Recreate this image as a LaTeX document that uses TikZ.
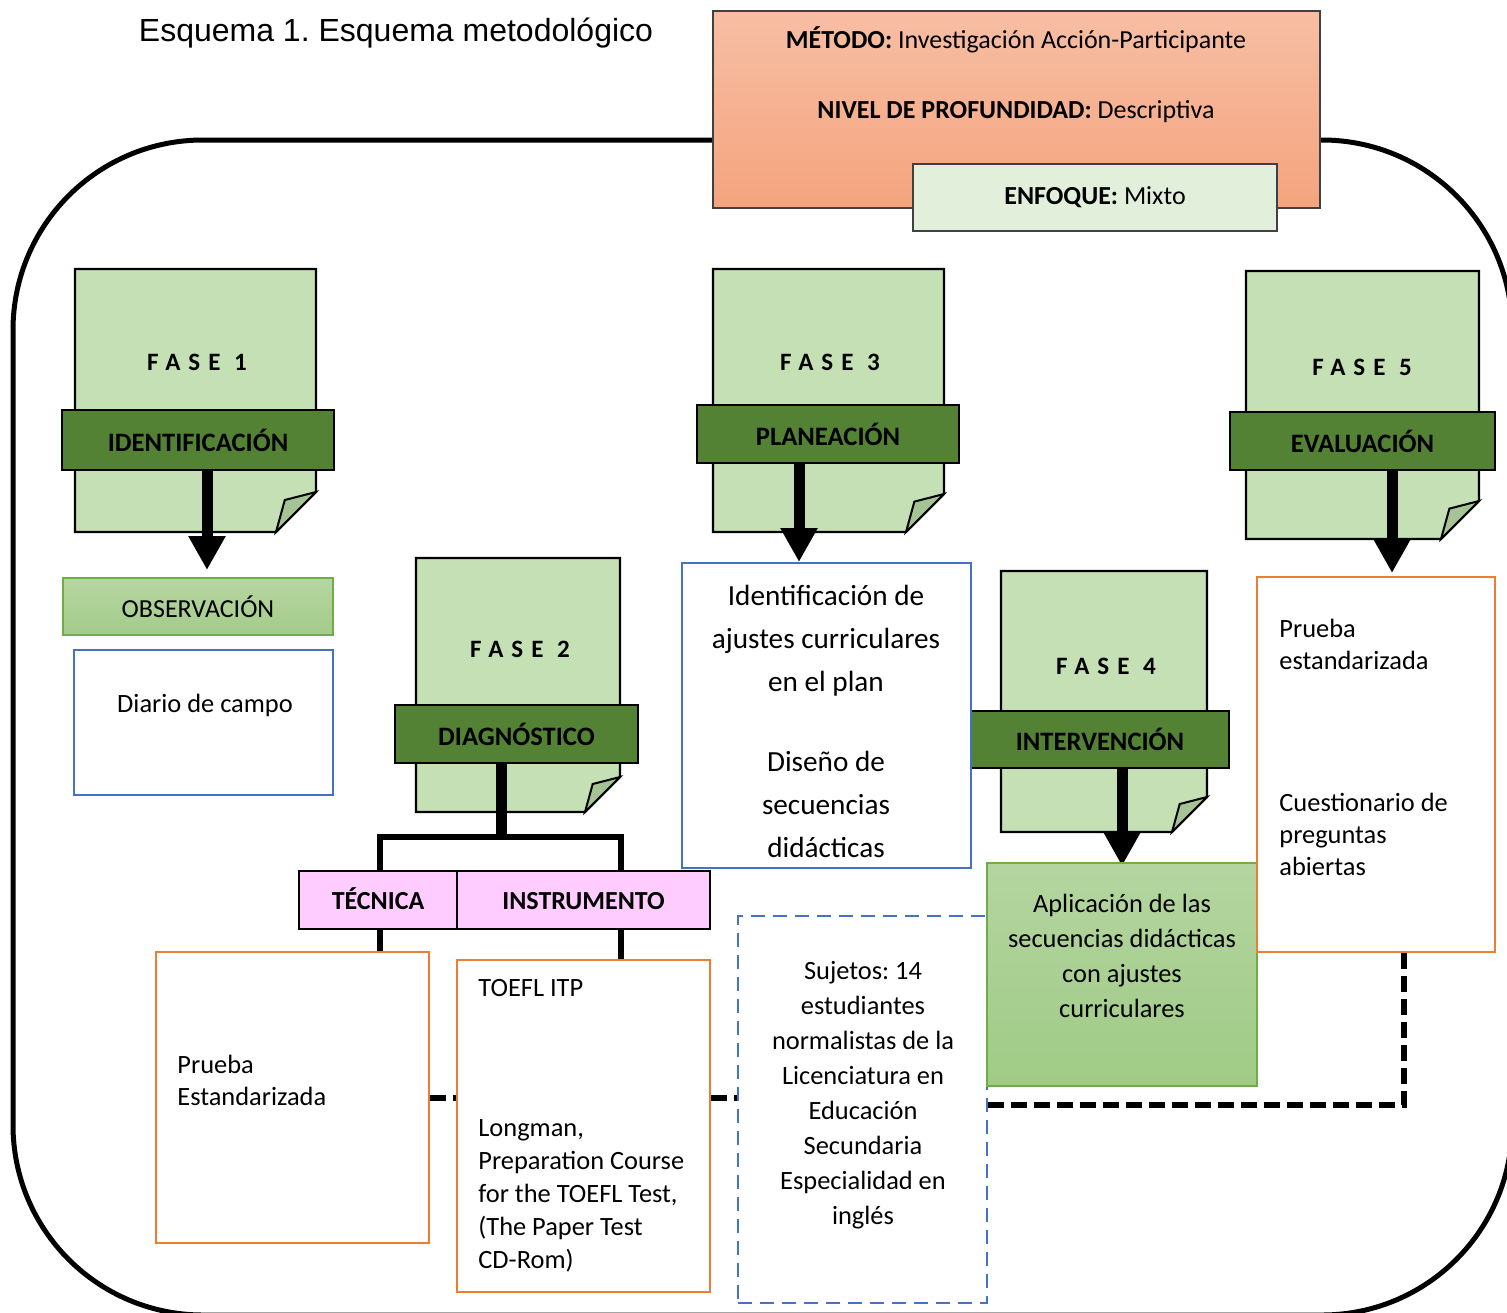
\documentclass[tikz,border=0pt]{standalone}
\usepackage{fontspec}
\setmainfont{Carlito}
\newfontfamily\arialfont{Liberation Sans}
\usetikzlibrary{arrows.meta,fit,calc}

\definecolor{pagegreen}{HTML}{C5E0B4}
\definecolor{foldgreen}{HTML}{A6C395}
\definecolor{bandgreen}{HTML}{548235}
\definecolor{edgegreen}{HTML}{70AD47}
\definecolor{boxorange}{HTML}{ED7D31}
\definecolor{boxblue}{HTML}{4472C4}
\definecolor{tecpink}{HTML}{FFCCFF}
\definecolor{enfgreen}{HTML}{E2EFDA}
\definecolor{mettop}{HTML}{F7BEA4}
\definecolor{metbot}{HTML}{F4A47E}
\definecolor{obstop}{HTML}{B6D6A2}
\definecolor{obsbot}{HTML}{A3CB89}
\definecolor{apltop}{HTML}{B4D5A0}
\definecolor{aplbot}{HTML}{9FCB86}

\tikzset{
  page/.style={fill=pagegreen, draw=black, line width=1.2pt},
  fold/.style={fill=foldgreen, draw=black, line width=1pt},
  band/.style={fill=bandgreen, draw=black, line width=1.3pt, inner sep=0pt,
    font=\fontsize{13.3}{15}\selectfont\bfseries},
  fasetxt/.style={inner sep=0pt, font=\fontsize{12.5}{14}\selectfont\bfseries\addfontfeatures{LetterSpace=32}},
  body/.style={inner sep=0pt, font=\fontsize{13.2}{16}\selectfont},
  bluebox/.style={draw=boxblue, line width=1pt, inner sep=0pt},
  orangebox/.style={draw=boxorange, line width=1pt, inner sep=0pt},
  pinkbox/.style={fill=tecpink, draw=black, line width=1.2pt, inner sep=0pt,
    minimum height=29pt, text height=9.3pt, text depth=0pt,
    font=\fontsize{13}{15}\selectfont\bfseries},
  bigarrow/.style={line width=5.5pt, -{Triangle[width=17.5pt,length=17pt]}},
  bracket/.style={line width=3pt},
  dashlink/.style={line width=3pt, dash pattern=on 8pt off 3.5pt},
}

% page with folded corner: x1, y1, x2, y2, fold size
\newcommand{\fasepage}[5]{%
  \filldraw[page] (#1,#2) -- (#3,#2) -- (#3,{#4-#5}) -- ({#3-#5},#4) -- (#1,#4) -- cycle;
  \filldraw[fold] ({#3-#5},#4) -- ({#3-0.78*#5},{#4-0.8*#5}) -- (#3,{#4-#5}) -- cycle;
}

\begin{document}
\frenchspacing
\begin{tikzpicture}[x=0.5pt, y=-0.5pt]
    \useasboundingbox (0,0) rectangle (1507,1312);
    \clip (0,0) rectangle (1507,1312);

    % frame
    \draw[line width=2.5pt, rounded corners=95pt] (13,140) rectangle (1512,1315);

    \node[font=\arialfont\fontsize{16}{18}\selectfont] (title) at (396,33) {Esquema 1. Esquema metodológico};

    % method
    \node[fit={(713,11) (1320,208)}, inner sep=0pt, draw=black!75, line width=0.6pt,
      top color=mettop, bottom color=metbot] (metodo) {};
    \node[body, font=\fontsize{13}{16}\selectfont] (m1) at (1016,40) {\textbf{MÉTODO:} Investigación Acción-Participante};
    \node[body, font=\fontsize{13}{16}\selectfont] (m2) at (1016,112) {\textbf{NIVEL DE PROFUNDIDAD:} Descriptiva};
    \node[fill=enfgreen, draw=black!75, line width=0.6pt, minimum width=182pt, minimum height=33.5pt,
      font=\fontsize{13}{16}\selectfont] (enfoque) at (1095,197.5) {\textbf{ENFOQUE:} Mixto};

    % phase pages
    \fasepage{75}{269}{316}{532}{40}
    \fasepage{416}{558}{620}{812}{35}
    \fasepage{713}{269}{944}{532}{38}
    \fasepage{1001}{571}{1207}{832}{35}
    \fasepage{1246}{271}{1479}{539}{38}

    \node[fasetxt] (f1) at (197,362) {FASE 1};
    \node[fasetxt] (f2) at (520,649) {FASE 2};
    \node[fasetxt] (f3) at (830,362) {FASE 3};
    \node[fasetxt] (f4) at (1106,666) {FASE 4};
    \node[fasetxt] (f5) at (1362,367) {FASE 5};

    % arrows from the bands
    \coordinate (t1) at (207,570);
    \coordinate (t3) at (799,562);
    \coordinate (t4) at (1122,866);
    \coordinate (t5) at (1392,573);
    \coordinate (c2) at (501,837);
    \coordinate (k1) at (380,837);
    \coordinate (k2) at (621,837);
    \coordinate (k5) at (1404,1105);

    \node[band, minimum width=136pt, minimum height=30pt] (b1) at (198,440) {IDENTIFICACIÓN};
    \node[band, minimum width=121.5pt, minimum height=29pt] (b2) at (516.5,734) {DIAGNÓSTICO};
    \node[band, minimum width=131pt, minimum height=29pt] (b3) at (828,434) {PLANEACIÓN};
    \node[band, minimum width=129pt, minimum height=28.5pt] (b4) at (1100,739.5) {INTERVENCIÓN};
    \node[band, minimum width=132.5pt, minimum height=29pt] (b5) at (1362.5,441) {EVALUACIÓN};

    \draw[bigarrow] (b1.south -| t1) -- (t1);
    \draw[bigarrow] (b3.south -| t3) -- (t3);
    \draw[bigarrow] (b4.south -| t4) -- (t4);
    \draw[bigarrow] (b5.south -| t5) -- (t5);

    % phase 1
    \node[draw=edgegreen, line width=0.6pt, top color=obstop, bottom color=obsbot,
      minimum width=135pt, minimum height=28.5pt, font=\fontsize{13}{15}\selectfont] (obs) at (198,606.5) {OBSERVACIÓN};
    \node[bluebox, fit={(74,650) (333,795)}] (diario) {};
    \node[body] (diariotxt) at (205,705) {Diario de campo};

    % phase 2
    \node[pinkbox, minimum width=79pt] (tec) at (378,900) {TÉCNICA};
    \node[pinkbox, minimum width=126.5pt] (ins) at (583.5,900) {INSTRUMENTO};
    \draw[line width=5.5pt] (b2.south -| c2) -- (c2);
    \draw[bracket] (tec.north -| k1) -- (k1) -- (k2) -- (ins.north -| k2);

    \node[orangebox, fit={(156,952) (429,1243)}] (pru) {};
    \node[orangebox, fit={(457,960) (710,1292)}] (toefl) {};
    \draw[bracket] (tec.south -| k1) -- (pru.north -| k1);
    \draw[bracket] (ins.south -| k2) -- (toefl.north -| k2);
    \node[body, anchor=north west, align=left] (prutxt) at (177,1055) {Prueba\\Estandarizada};
    \node[body, anchor=north west, align=left] (toefl1) at (478,979) {TOEFL ITP};
    \node[body, anchor=north west, align=left, font=\fontsize{13.2}{16.5}\selectfont] (toefl2) at (478,1119)
      {Longman,\\Preparation Course\\for the TOEFL Test,\\(The Paper Test\\CD-Rom)};

    \node[bluebox, dash pattern=on 7pt off 4pt, fit={(738,916) (987,1303)}] (suj) {};
    \node[body, anchor=north, align=center, font=\fontsize{13.2}{17.5}\selectfont] (sujtxt) at (863,961)
      {Sujetos: 14\\estudiantes\\normalistas de la\\Licenciatura en\\Educación\\Secundaria\\Especialidad en\\inglés};

    \draw[dashlink] (pru.east) -- (toefl.west |- pru.east);
    \draw[dashlink] (toefl.east |- pru.east) -- (suj.west |- pru.east);

    % phase 3
    \node[bluebox, fit={(682,563) (971,868)}] (ident) {};
    \node[body, anchor=north, align=center, font=\fontsize{14.6}{21.5}\selectfont] (identtxt) at (826,585)
      {Identificación de\\ajustes curriculares\\en el plan\\[18.5pt]Diseño de\\secuencias\\didácticas};

    % phase 4
    \node[fit={(987,863) (1257,1086)}, inner sep=0pt, draw=edgegreen, line width=0.6pt,
      top color=apltop, bottom color=aplbot] (apl) {};
    \node[body, anchor=north, align=center, font=\fontsize{13.2}{17.5}\selectfont] (apltxt) at (1122,894)
      {Aplicación de las\\secuencias didácticas\\con ajustes\\curriculares};

    % phase 5
    \node[orangebox, fit={(1257,577) (1495,952)}] (pe) {};
    \node[body, anchor=north west, align=left] (pe1) at (1279,619) {Prueba\\estandarizada};
    \node[body, anchor=north west, align=left] (pe2) at (1279,793) {Cuestionario de\\preguntas\\abiertas};

    \draw[dashlink] (pe.south -| k5) |- (suj.east |- k5);
\end{tikzpicture}
\end{document}
